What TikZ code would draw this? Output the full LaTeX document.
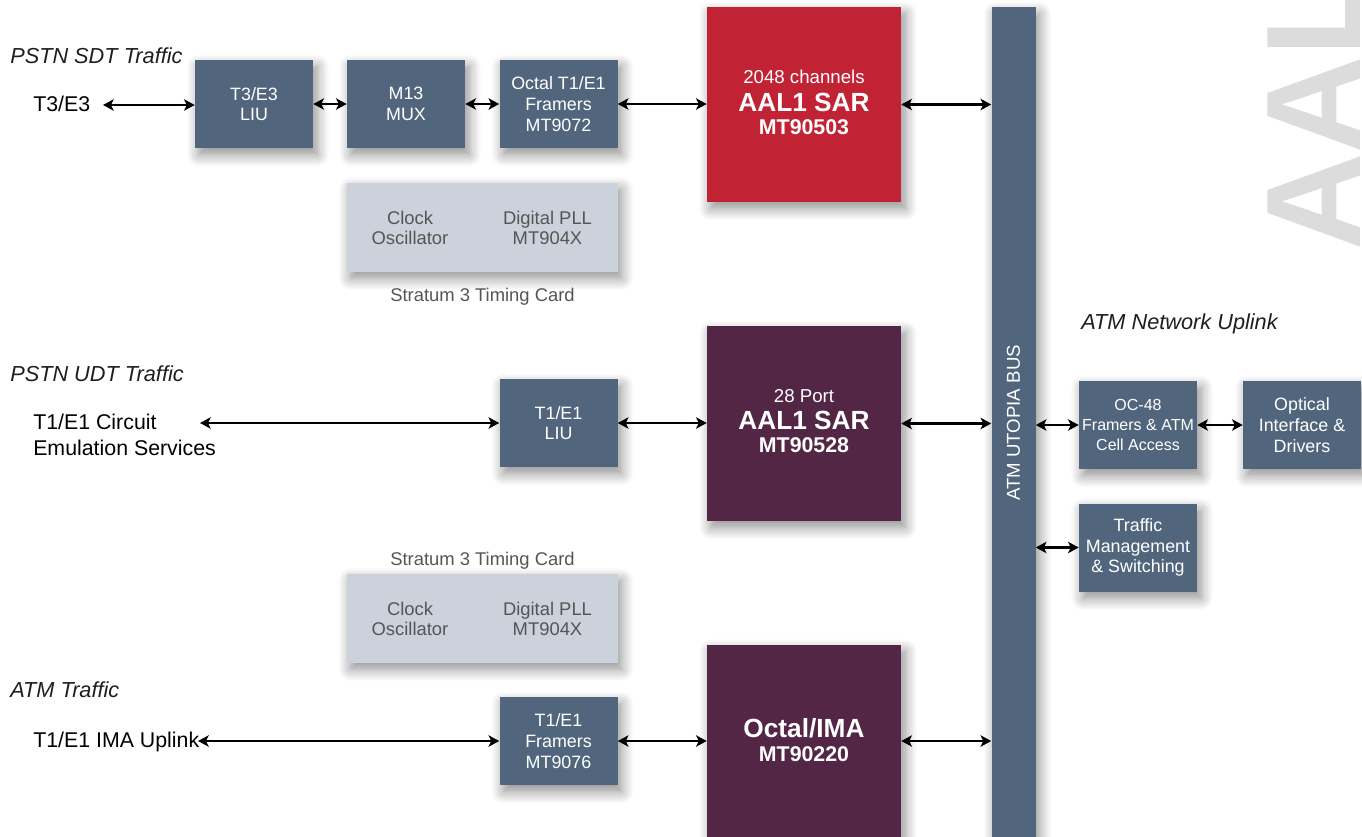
\documentclass[tikz,border=0pt]{standalone}
\usepackage{fontspec}
\setmainfont{Liberation Sans}
\usetikzlibrary{arrows.meta,shadows.blur}
\definecolor{slate}{RGB}{81,102,125}
\definecolor{sarred}{RGB}{193,35,53}
\definecolor{sarpurple}{RGB}{83,38,69}
\definecolor{cardgray}{RGB}{204,210,219}
\definecolor{cardtext}{RGB}{85,85,85}
\definecolor{headtext}{RGB}{30,30,30}
\definecolor{wmark}{RGB}{220,220,220}
\begin{document}
\begin{tikzpicture}[x=0.75pt,y=-0.75pt,
  boxshadow/.style={blur shadow={shadow xshift=3pt,shadow yshift=-5pt,shadow blur radius=9pt,shadow blur steps=10,shadow opacity=45}},
  chip/.style={fill=slate, text=white, align=center, inner sep=0pt, minimum width=88.5pt, minimum height=66pt, font=\fontsize{13.4}{15.5}\selectfont, boxshadow},
  sar/.style={inner sep=0pt, minimum width=145.5pt, minimum height=146pt, boxshadow},
  card/.style={fill=cardgray, inner sep=0pt, minimum width=203.25pt, minimum height=66.75pt, boxshadow},
  cardlbl/.style={text=cardtext, align=center, inner sep=0pt, font=\fontsize{13.8}{15}\selectfont},
  cardcap/.style={anchor=base, text=cardtext, inner sep=0pt, font=\fontsize{13.8}{15}\selectfont},
  heading/.style={anchor=base west, inner sep=0pt, text=headtext, font=\fontsize{16.3}{19}\selectfont\itshape},
  side/.style={anchor=base west, inner sep=0pt, font=\fontsize{16}{19.5}\selectfont},
  sartxt/.style={anchor=base, inner sep=0pt, text=white},
  biarrow/.style={{Stealth[length=8pt,width=8.5pt,inset=2pt]}-{Stealth[length=8pt,width=8.5pt,inset=2pt]}, line width=1.7pt},
]
\useasboundingbox (0,0) rectangle (1362,836);
\clip (0,0) rectangle (1362,836);

% watermark
\node[anchor=base west, rotate=90, inner sep=0pt, text=wmark, font=\fontsize{101}{101}\selectfont\bfseries] (wm) at (1360,251) {AAL};

% headings and side labels
\node[heading] (h1) at (10,63) {PSTN SDT Traffic};
\node[heading] (h2) at (10,381) {PSTN UDT Traffic};
\node[heading] (h3) at (10,697) {ATM Traffic};
\node[heading] (h4) at (1081,329) {ATM Network Uplink};
\node[side] (s1) at (33,111) {T3/E3};
\node[side] (s2) at (33,429) {T1/E1 Circuit};
\node[side] (s2b) at (33,455) {Emulation Services};
\node[side] (s3) at (33,747) {T1/E1 IMA Uplink};

% top row
\node[chip] (liu3) at (254,104) {T3/E3\\LIU};
\node[chip] (mux) at (406,104) {M13\\MUX};
\node[chip] (fr72) at (558.5,104) {Octal T1/E1\\Framers\\MT9072};
\node[sar, fill=sarred] (sar1) at (804,104.5) {};
\node[sartxt, font=\fontsize{14}{16}\selectfont] (sar1a) at (804,83) {2048 channels};
\node[sartxt, font=\fontsize{19.7}{22}\selectfont\bfseries] (sar1b) at (804,111) {AAL1 SAR};
\node[sartxt, font=\fontsize{16}{18}\selectfont\bfseries] (sar1c) at (804,134) {MT90503};

% timing card 1
\node[card] (card1) at (482,227) {};
\node[cardlbl] (clk1) at (410,228) {Clock\\Oscillator};
\node[cardlbl] (pll1) at (547.5,228) {Digital PLL\\MT904X};
\node[cardcap] (cap1) at (482.5,301) {Stratum 3 Timing Card};

% middle row
\node[chip] (liu1) at (558.5,423) {T1/E1\\LIU};
\node[sar, fill=sarpurple] (sar2) at (804,423.5) {};
\node[sartxt, font=\fontsize{14}{16}\selectfont] (sar2a) at (804,402) {28 Port};
\node[sartxt, font=\fontsize{19.7}{22}\selectfont\bfseries] (sar2b) at (804,429) {AAL1 SAR};
\node[sartxt, font=\fontsize{16}{18}\selectfont\bfseries] (sar2c) at (804,452.5) {MT90528};

% timing card 2
\node[cardcap] (cap2) at (482.5,565) {Stratum 3 Timing Card};
\node[card] (card2) at (482,618) {};
\node[cardlbl] (clk2) at (410,619) {Clock\\Oscillator};
\node[cardlbl] (pll2) at (547.5,619) {Digital PLL\\MT904X};

% bottom row
\node[chip] (fr76) at (558.5,741) {T1/E1\\Framers\\MT9076};
\node[sar, fill=sarpurple] (ima) at (804,742) {};
\node[sartxt, font=\fontsize{19.7}{22}\selectfont\bfseries] (imaa) at (804,737) {Octal/IMA};
\node[sartxt, font=\fontsize{16}{18}\selectfont\bfseries] (imab) at (804,761) {MT90220};

% bus
\node[fill=slate, inner sep=0pt, minimum width=33pt, minimum height=660pt, anchor=north, boxshadow] (bus) at (1013.5,7) {};
\node[rotate=90, text=white, inner sep=0pt, font=\fontsize{14}{16}\selectfont] (buslbl) at (1013.5,423) {ATM UTOPIA BUS};

% right boxes
\node[chip, font=\fontsize{12}{15}\selectfont] (oc48) at (1138,425) {OC-48\\Framers \& ATM\\Cell Access};
\node[chip] (opt) at (1302,425) {Optical\\Interface \&\\Drivers};
\node[chip] (traf) at (1138,547.5) {Traffic\\Management\\\& Switching};

% connectors
\coordinate (t3a) at (103,105);
\draw[biarrow] (t3a) -- (t3a -| liu3.west);
\draw[biarrow] (liu3.east) -- (mux.west);
\draw[biarrow] (mux.east) -- (fr72.west);
\draw[biarrow] (fr72.east) -- (fr72.east -| sar1.west);
\draw[biarrow] (sar1.east) -- (sar1.east -| bus.west);

\coordinate (ces) at (200,423);
\draw[biarrow] (ces) -- (ces -| liu1.west);
\draw[biarrow] (liu1.east) -- (liu1.east -| sar2.west);
\draw[biarrow] (sar2.east) -- (sar2.east -| bus.west);
\draw[biarrow] (oc48.west -| bus.east) -- (oc48.west);
\draw[biarrow] (oc48.east) -- (opt.west);
\draw[biarrow] (traf.west -| bus.east) -- (traf.west);

\coordinate (ima0) at (198,741);
\draw[biarrow] (ima0) -- (ima0 -| fr76.west);
\draw[biarrow] (fr76.east) -- (fr76.east -| ima.west);
\draw[biarrow] (fr76.east -| ima.east) -- (fr76.east -| bus.west);
\end{tikzpicture}
\end{document}
